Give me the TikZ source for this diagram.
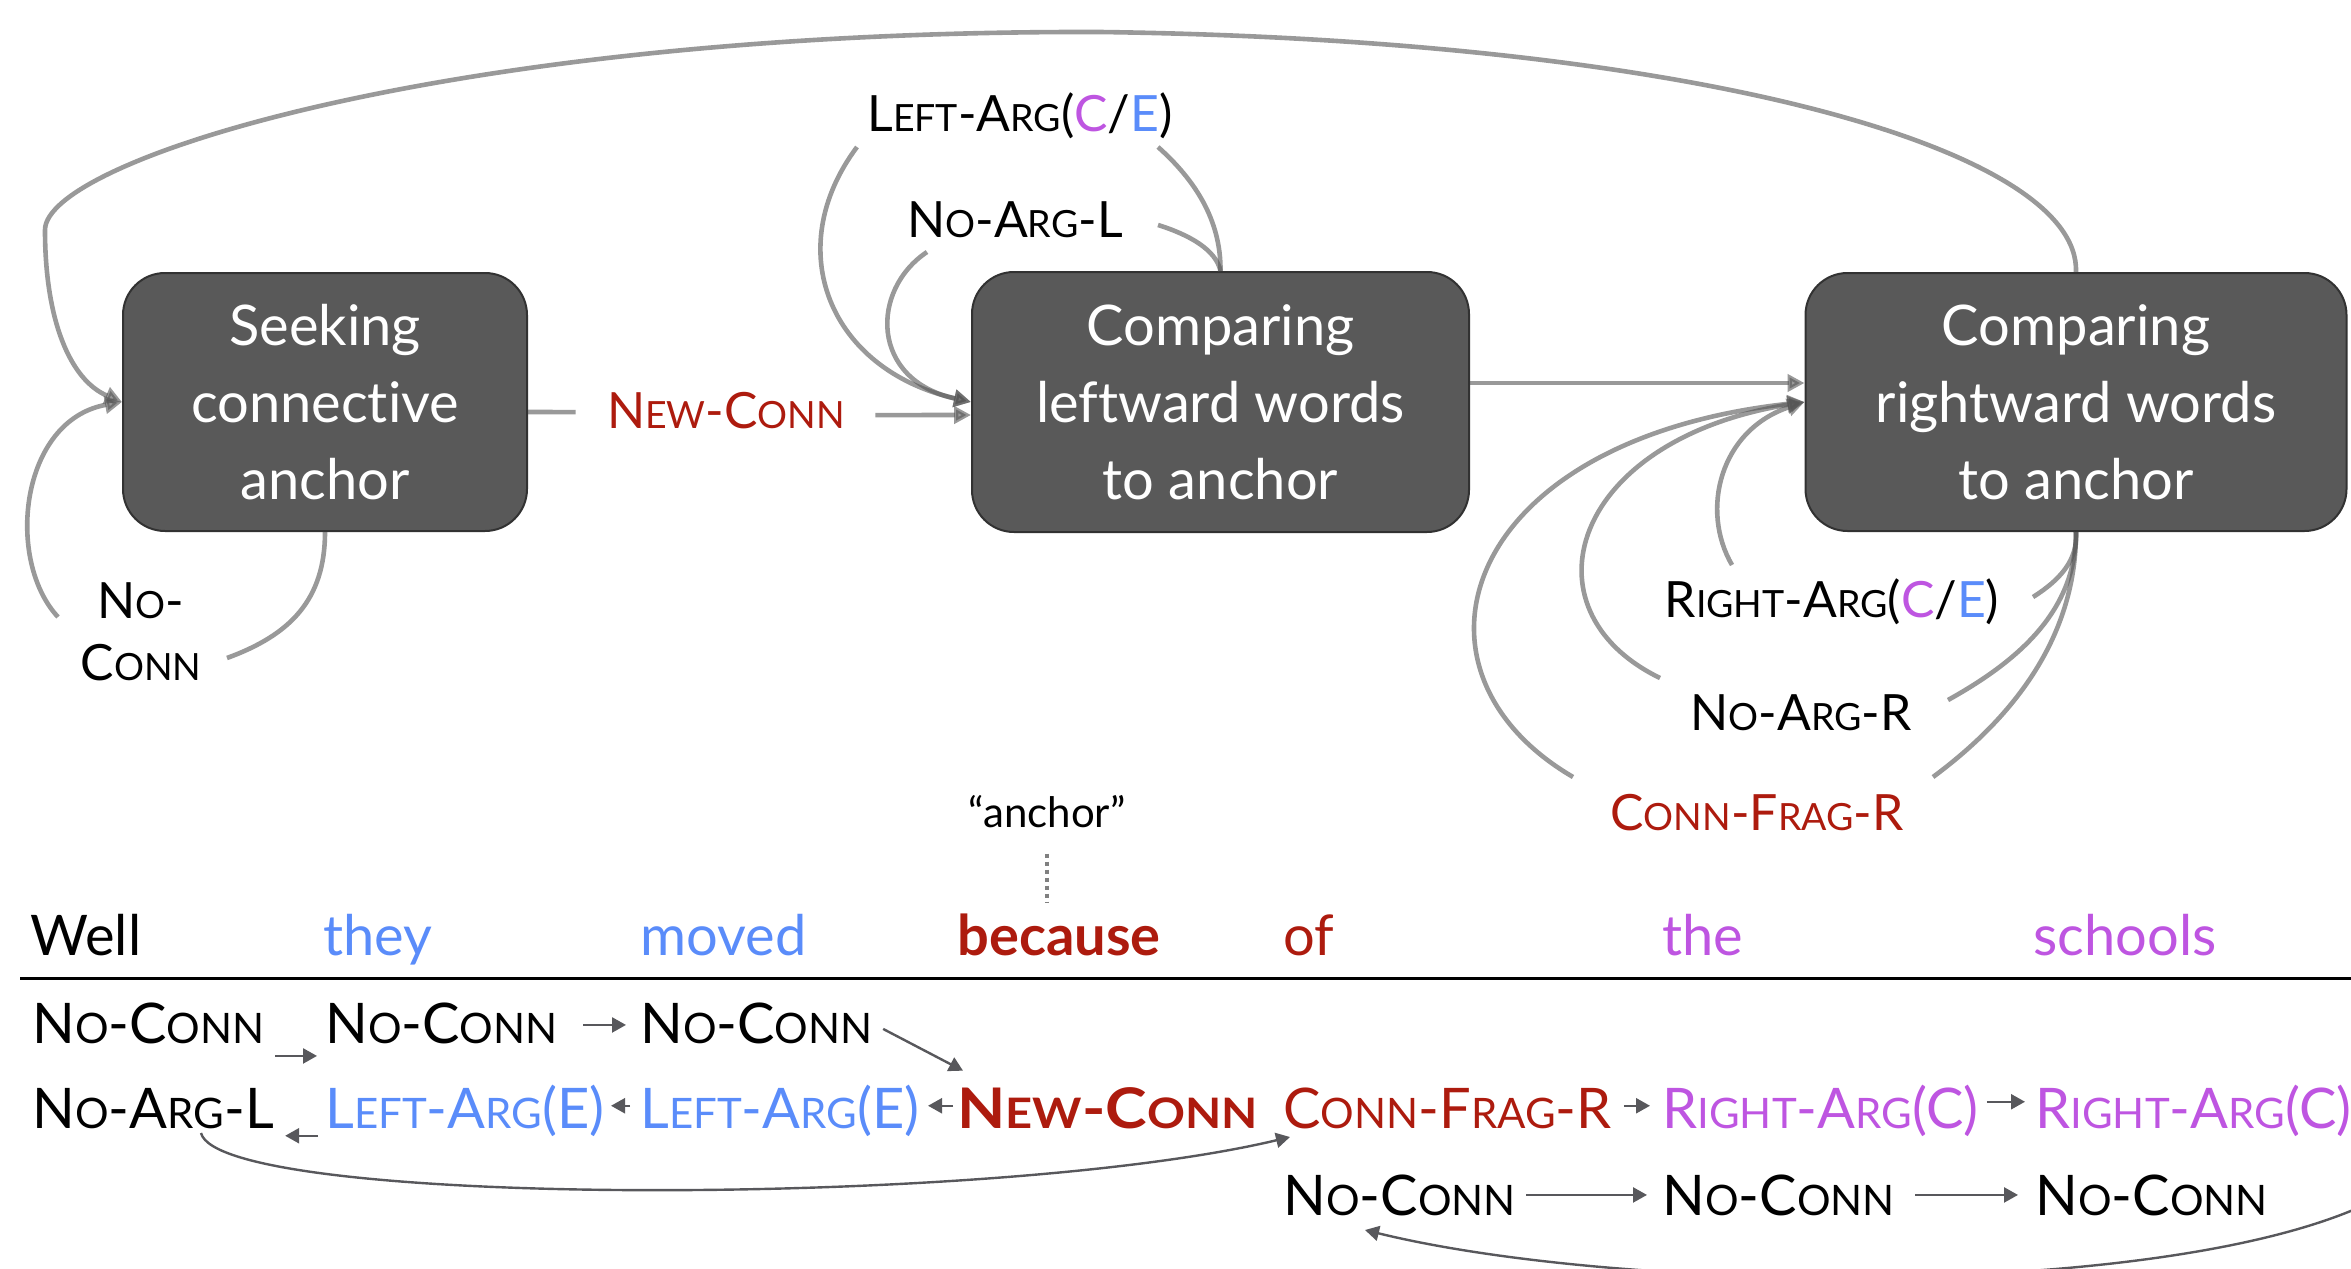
\documentclass[tikz,border=0pt]{standalone}
\usepackage{fontspec}
\setmainfont{Lato}[Ligatures={TeX,NoCommon}]
\usetikzlibrary{arrows.meta,calc}
\definecolor{cred}{RGB}{173,27,14}
\definecolor{cblue}{RGB}{90,140,250}
\definecolor{cpurp}{RGB}{190,85,225}
\definecolor{boxfill}{RGB}{89,89,89}
\definecolor{boxline}{RGB}{50,50,50}
\definecolor{arrgray}{RGB}{85,85,85}
\definecolor{tokarr}{RGB}{88,88,92}
\makeatletter
\newcommand\lowc[1]{{\fontsize{\strip@pt\dimexpr\f@size pt*75/100\relax}{\f@baselineskip}\selectfont #1}}
\makeatother
\tikzset{
  box/.style={draw=boxline, line width=1pt, fill=boxfill, rounded corners=21pt,
    text=white, align=center, font=\fontsize{28pt}{38.5pt}\selectfont, inner sep=0pt},
  lbl/.style={font=\fontsize{25pt}{30pt}\selectfont, inner sep=0pt, anchor=base},
  gline/.style={draw=arrgray, opacity=0.6, line width=2.3pt},
  garr/.style={gline, -{Triangle[length=8.5pt,width=8.5pt]}},
  tarr/.style={draw=tokarr, line width=1.2pt, -{Triangle[length=7pt,width=7.5pt]}},
  tok/.style={font=\fontsize{28pt}{32pt}\selectfont, inner sep=0pt, anchor=base west},
  btok/.style={tok, font=\fontsize{28pt}{32pt}\selectfont\bfseries\addfontfeature{FakeStretch=1.12}},
  word/.style={font=\fontsize{28pt}{32pt}\selectfont, inner sep=0pt, anchor=base west},
  dotline/.style={draw=black!50, line width=2pt, dash pattern=on 2pt off 2pt}
}
\begin{document}
\begin{tikzpicture}[x=0.5pt,y=-0.5pt]
\useasboundingbox (0,0) rectangle (2351,1269);
\clip (0,0) rectangle (2351,1269);

% state boxes
\node[box, minimum width=202pt, minimum height=129pt] (b1) at (325,402) {Seeking\\connective\\anchor};
\node[box, minimum width=248.5pt, minimum height=130pt] (b2) at (1220.5,402) {Comparing\\leftward words\\to anchor};
\node[box, minimum width=270.5pt, minimum height=129pt] (b3) at (2076,402) {Comparing\\rightward words\\to anchor};

% transition labels
\node[lbl] (lleft) at (1020,131) {L\lowc{EFT}-A\lowc{RG}(\textcolor{cpurp}{C}/\textcolor{cblue}{E})};
\node[lbl] (lnoargl) at (1015,237) {N\lowc{O}-A\lowc{RG}-L};
\node[lbl, text=cred] (lnew) at (726,428) {N\lowc{EW}-C\lowc{ONN}};
\node[lbl] (lnc1) at (141,618) {N\lowc{O}-};
\node[lbl] (lnc2) at (141,680) {C\lowc{ONN}};
\node[lbl] (lright) at (1832,617) {R\lowc{IGHT}-A\lowc{RG}(\textcolor{cpurp}{C}/\textcolor{cblue}{E})};
\node[lbl] (lnoargr) at (1801,730) {N\lowc{O}-A\lowc{RG}-R};
\node[lbl, text=cred] (lfrag) at (1757,830) {C\lowc{ONN}-F\lowc{RAG}-R};

% gap end points of the looping transitions
\coordinate (g1a) at (227,658);
\coordinate (g1b) at (58,617);
\coordinate (g2a) at (1158,147);
\coordinate (g2b) at (857,147);
\coordinate (g2c) at (1158,225);
\coordinate (g2d) at (927,252);
\coordinate (g3a) at (2033,597);
\coordinate (g3b) at (1732,565);
\coordinate (g3c) at (1948,700);
\coordinate (g3d) at (1660,678);
\coordinate (g3e) at (1933,777);
\coordinate (g3f) at (1573,777);

% big return arc
\draw[garr] (b3.north) .. controls (2080,150) and (1700,40) .. (1100,32)
  .. controls (450,30) and (45,160) .. (45,230)
  .. controls (45,320) and (70,380) .. (b1.west);
% NO-CONN loop
\draw[gline] (b1.south) .. controls (325,600) and (290,635) .. (g1a);
\draw[garr] (g1b) .. controls (5,560) and (20,420) .. (b1.west);
% NEW-CONN
\draw[gline] ($(b1.east)+(0,10)$) -- ($(lnew.west)+(-31,2)$);
\draw[garr] ($(lnew.east)+(30,5)$) -- ($(b2.west)+(0,13)$);
% left loops
\draw[gline] (b2.north) .. controls (1221,220) and (1195,180) .. (g2a);
\draw[garr] (g2b) .. controls (780,250) and (830,370) .. (b2.west);
\draw[gline] (b2.north) .. controls (1216,250) and (1190,235) .. (g2c);
\draw[garr] (g2d) .. controls (870,290) and (870,380) .. (b2.west);
% to right box
\draw[garr] ($(b2.east)+(0,-19)$) -- ($(b3.west)+(0,-19)$);
% right loops
\draw[gline] (b3.south) .. controls (2078,560) and (2060,580) .. (g3a);
\draw[garr] (g3b) .. controls (1700,510) and (1720,430) .. (b3.west);
\draw[gline] (b3.south) .. controls (2076,610) and (2020,660) .. (g3c);
\draw[garr] (g3d) .. controls (1520,610) and (1570,440) .. (b3.west);
\draw[gline] (b3.south) .. controls (2076,640) and (2010,720) .. (g3e);
\draw[garr] (g3f) .. controls (1390,670) and (1460,440) .. (b3.west);

% sentence
\node[font=\fontsize{21pt}{25pt}\selectfont, inner sep=0pt, anchor=base] (anch) at (1047,827) {“anchor”};
\node[word] (w1) at (30,955) {Well};
\node[word, text=cblue] (w2) at (323,955) {they};
\node[word, text=cblue] (w3) at (640,955) {moved};
\node[word, text=cred, font=\fontsize{28pt}{32pt}\selectfont\bfseries] (w4) at (957,955) {because};
\node[word, text=cred] (w5) at (1283,955) {of};
\node[word, text=cpurp] (w6) at (1662,955) {the};
\node[word, text=cpurp] (w7) at (2033,955) {schools};
\draw[dotline, shorten <=13pt, shorten >=5.5pt] (anch.south) -- (anch.south |- w4.north);
\draw[line width=1.5pt] (20,978) -- (2351,978);

% token rows
\node[tok] (t11) at (32,1043) {N\lowc{O}-C\lowc{ONN}};
\node[tok] (t12) at (325,1043) {N\lowc{O}-C\lowc{ONN}};
\node[tok] (t13) at (640,1043) {N\lowc{O}-C\lowc{ONN}};
\node[tok] (t21) at (32,1128) {N\lowc{O}-A\lowc{RG}-L};
\node[tok, text=cblue] (t22) at (325,1128) {L\lowc{EFT}-A\lowc{RG}(E)};
\node[tok, text=cblue] (t23) at (640,1128) {L\lowc{EFT}-A\lowc{RG}(E)};
\node[btok, text=cred] (t24) at (957,1128) {N\lowc{EW}-C\lowc{ONN}};
\node[tok, text=cred] (t25) at (1283,1128) {C\lowc{ONN}-F\lowc{RAG}-R};
\node[tok, text=cpurp] (t26) at (1662,1128) {R\lowc{IGHT}-A\lowc{RG}(C)};
\node[tok, text=cpurp] (t27) at (2035,1128) {R\lowc{IGHT}-A\lowc{RG}(C)};
\node[tok] (t31) at (1283,1215) {N\lowc{O}-C\lowc{ONN}};
\node[tok] (t32) at (1662,1215) {N\lowc{O}-C\lowc{ONN}};
\node[tok] (t33) at (2035,1215) {N\lowc{O}-C\lowc{ONN}};
\coordinate (offR) at (2420,1170);

\draw[tarr] ($(t11.east)+(10,33)$) -- ($(t12.west)+(-8,33)$);
\draw[tarr] ($(t12.east)+(25,2)$) -- ($(t13.west)+(-14,2)$);
\draw[tarr] ($(t13.east)+(10,6)$) -- ($(t24.north west)+(6,-16)$);
\draw[tarr] ($(t24.west)+(-4,-2)$) -- ($(t23.east |- t24.west)+(8,-2)$);
\draw[tarr] ($(t23.west |- t24.west)+(-10,-2)$) -- ($(t22.east |- t24.west)+(6,-2)$);
\draw[tarr] ($(t22.west |- t24.west)+(-7,28)$) -- ($(t21.east |- t24.west)+(11,28)$);
\draw[tarr] ($(t21.base west)+(169,5)$) .. controls ($(t21.base west)+(188,80)$) and ($(t25.base west)+(-290,80)$) .. ($(t25.base west)+(7,9)$);
\draw[tarr] ($(t25.east |- t24.west)+(12,-2)$) -- ($(t26.west |- t24.west)+(-12,-2)$);
\draw[tarr] ($(t26.east |- t24.west)+(8,-6)$) -- ($(t27.west |- t24.west)+(-10,-6)$);
\draw[tarr] ($(t31.east)+(10,0)$) -- ($(t32.west)+(-15,0)$);
\draw[tarr] ($(t32.east)+(20,0)$) -- ($(t33.west)+(-17,0)$);
\draw[tarr] (offR) .. controls (2280,1300) and (1650,1300) .. ($(t31.base west)+(82,15)$);
\end{tikzpicture}
\end{document}
